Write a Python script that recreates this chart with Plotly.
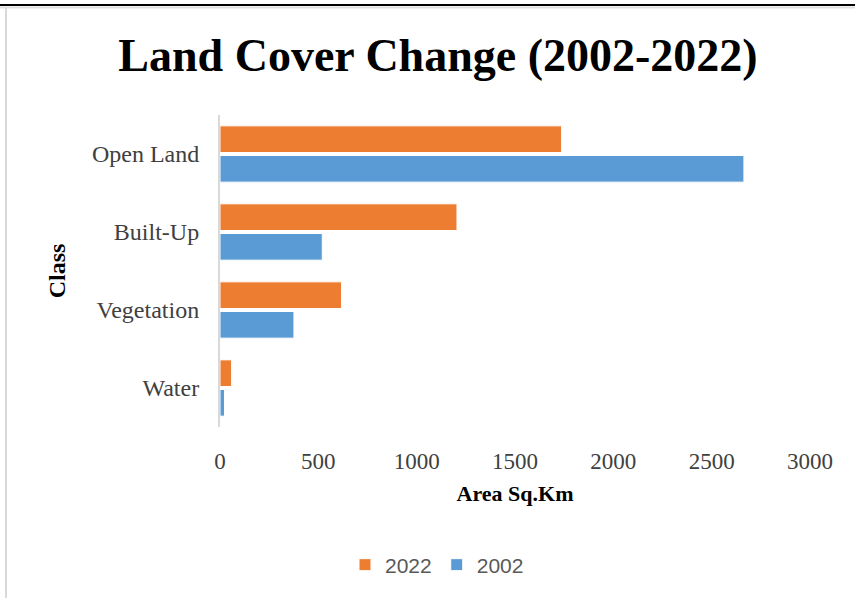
import plotly.graph_objects as go

categories = ["Water", "Vegetation", "Built-Up", "Open Land"]
values_2002 = [23, 376, 520, 2664]
values_2022 = [59, 618, 1205, 1737]
x_ticks = [0, 500, 1000, 1500, 2000, 2500, 3000]

ORANGE = "#ED7D31"
BLUE = "#5B9BD5"
SERIF = "Liberation Serif, Times New Roman, serif"

fig = go.Figure()
fig.add_trace(go.Bar(y=categories, x=values_2002, orientation="h", name="2002",
                     marker=dict(color=BLUE, line=dict(color="white", width=1))))
fig.add_trace(go.Bar(y=categories, x=values_2022, orientation="h", name="2022",
                     marker=dict(color=ORANGE, line=dict(color="white", width=1))))

W, H = 855, 598
L, R, T, B = 220, 810, 115, 427

def px(xp):
    return (xp - L) / (R - L)

def py(yp):
    return (B - yp) / (B - T)

fig.update_layout(
    width=W, height=H,
    margin=dict(l=L, r=W - R, t=T, b=H - B),
    paper_bgcolor="white", plot_bgcolor="white",
    barmode="group", bargap=0.24, bargroupgap=0.1,
    title=dict(text="<b>Land Cover Change (2002-2022)</b>",
               font=dict(family=SERIF, size=46, color="black"),
               x=438 / W, xanchor="center", y=1 - 55 / H, yanchor="middle"),
    xaxis=dict(range=[0, 3000], tickvals=x_ticks, showgrid=False, zeroline=False,
               showline=False, ticks="", ticklabelstandoff=18,
               tickfont=dict(family=SERIF, size=23, color="#404040"),
               title=dict(text="<b>Area Sq.Km</b>", font=dict(family=SERIF, size=22, color="black"),
                          standoff=12)),
    yaxis=dict(showgrid=False, zeroline=False, showline=True, linecolor="#D9D9D9", linewidth=2,
               ticks="", ticklabelstandoff=14,
               tickfont=dict(family=SERIF, size=24, color="#404040"),
               title=dict(text="<b>Class</b>", font=dict(family=SERIF, size=24, color="black"),
                          standoff=20)),
    legend=dict(orientation="h", x=px(437), xanchor="center", y=py(565), yanchor="middle",
                traceorder="reversed",
                font=dict(family="Liberation Sans, Arial, sans-serif", size=21, color="#595959")),
    shapes=[
        dict(type="line", xref="paper", yref="paper", x0=px(0), x1=px(W), y0=py(5), y1=py(5),
             line=dict(color="black", width=2)),
        dict(type="line", xref="paper", yref="paper", x0=px(0), x1=px(W), y0=py(7.5), y1=py(7.5),
             line=dict(color="#E0E0E0", width=2)),
        dict(type="line", xref="paper", yref="paper", x0=px(6), x1=px(6), y0=py(7), y1=py(H),
             line=dict(color="#D9D9D9", width=2)),
    ],
)

fig.write_html("out.html", config={"displayModeBar": False},
               post_script="document.body.style.margin='0';document.body.style.padding='0';")
